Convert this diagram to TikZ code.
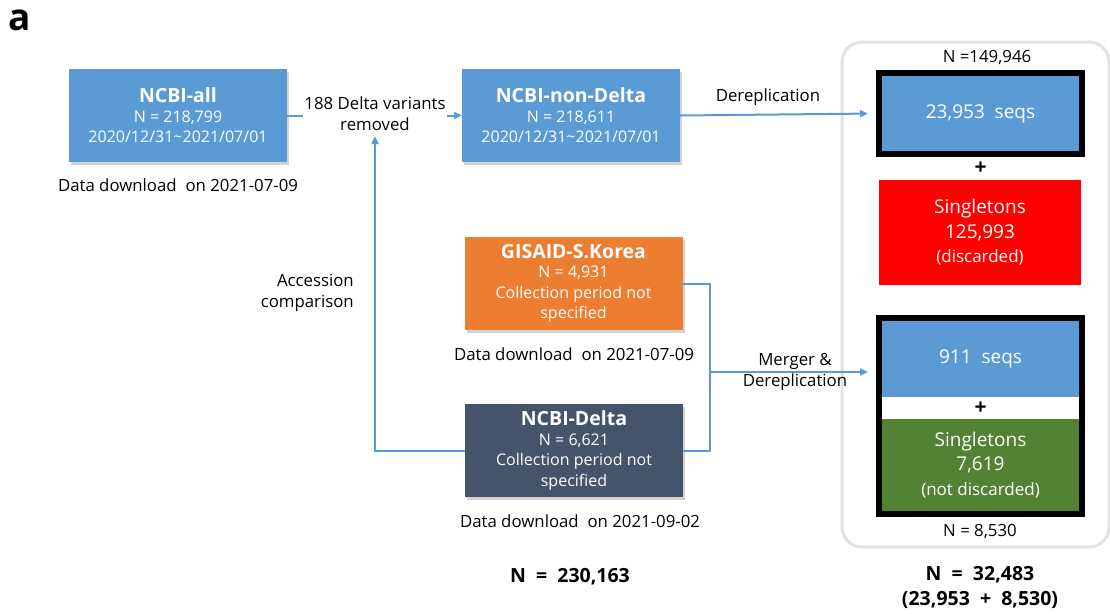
\documentclass[tikz,border=0pt]{standalone}
\usepackage{fontspec}
\setmainfont{Open Sans}
\usetikzlibrary{arrows.meta,shadows}
\definecolor{cblue}{HTML}{5B9BD5}
\definecolor{corange}{HTML}{ED7D31}
\definecolor{cslate}{HTML}{44546A}
\definecolor{cgreen}{HTML}{548235}
\definecolor{cred}{HTML}{FF0000}
\definecolor{cgray}{HTML}{E2E2E2}
\newcommand{\ttlf}{\fontsize{19.5}{22}\selectfont\bfseries}
\tikzset{
  srcbox/.style={fill=#1, text=white, minimum width=218pt, minimum height=93pt, inner sep=0pt, align=center,
    font=\fontsize{16}{20.5}\selectfont,
    drop shadow={shadow xshift=2pt, shadow yshift=-3pt, opacity=0.35}},
  conn/.style={draw=cblue, line width=2pt},
  arr/.style={conn, -{Triangle[length=8pt,width=7pt]}},
  lbl/.style={font=\fontsize{16.8}{21}\selectfont, text=black, align=center, inner sep=1pt},
  resbox/.style={fill=#1, text=white, inner sep=0pt, align=center, font=\fontsize{19}{24.5}\selectfont},
  frame/.style={draw=black, line width=6pt, inner sep=0pt},
  plus/.style={font=\fontsize{21}{22}\selectfont\bfseries, inner sep=0pt},
  big/.style={font=\fontsize{19.5}{25}\selectfont\bfseries, align=center, inner sep=0pt}
}
\begin{document}
\begin{tikzpicture}[x=1pt,y=-1pt]
\useasboundingbox[fill=white] (0,0) rectangle (1110,613);
\node[font=\fontsize{37}{37}\selectfont\bfseries, anchor=west, inner sep=0pt] (lettera) at (8,20) {a};

% gray frame
\draw[cgray, line width=3pt, rounded corners=20pt] (842,42) rectangle (1109,547);

% source boxes
\node[srcbox=cblue] (all) at (178,115.5) {{\ttlf NCBI-all}\\[-1pt]N\ =\ 218,799\\2020/12/31\textasciitilde 2021/07/01};
\node[srcbox=cblue] (nond) at (571,115.5) {{\ttlf NCBI-non-Delta}\\[-1pt]N\ =\ 218,611\\2020/12/31\textasciitilde 2021/07/01};
\node[srcbox=corange] (gis) at (573.5,283.5) {{\ttlf GISAID-S.Korea}\\[-1pt]N\ =\ 4,931\\Collection period not\\specified};
\node[srcbox=cslate] (delta) at (574,450.5) {{\ttlf NCBI-Delta}\\[-1pt]N\ =\ 6,621\\Collection period not\\specified};

\node[lbl] (dl1) at (178,185) {Data download\ \ on 2021-07-09};
\node[lbl] (dl2) at (574,354) {Data download\ \ on 2021-07-09};
\node[lbl] (dl3) at (580,521) {Data download\ \ on 2021-09-02};

% results
\node[frame, minimum width=203pt, minimum height=81pt] (f1) at (980.5,113.5) {};
\node[resbox=cblue, minimum width=197pt, minimum height=75pt] (s1) at (980.5,113.5) {23,953\ \ seqs};
\node[plus] (p1) at (980.5,168) {+};
\node[resbox=cred, minimum width=202pt, minimum height=105pt] (red) at (980,232.5) {Singletons\\125,993\\{\fontsize{17}{20}\selectfont(discarded)}};
\node[lbl] (n1) at (987,57) {N\ =149,946};

\node[frame, minimum width=203pt, minimum height=196pt] (f2) at (980.5,416) {};
\node[resbox=cblue, minimum width=197pt, minimum height=76pt] (s2) at (980.5,359) {911\ \ seqs};
\node[plus] (p2) at (980.5,408) {+};
\node[resbox=cgreen, minimum width=197pt, minimum height=92pt] (green) at (980.5,465) {Singletons\\7,619\\{\fontsize{17}{20}\selectfont(not discarded)}};
\node[lbl] (n2) at (980,531) {N\ =\ 8,530};

\node[big] (tot1) at (570,577) {N\ \ =\ \ 230,163};
\node[big] (tot2) at (980,587) {N\ \ =\ \ 32,483\\(23,953\ \ +\ \ 8,530)};

% connectors
\draw[arr] (all.east) -- (nond.west);
\node[lbl, fill=white] (rm) at (375,114) {188 Delta variants\\removed};
\node[lbl] (derep) at (768,97) {Dereplication};
\draw[arr, shorten >=8pt] (nond.east) -- (f1.west);

\coordinate (jt) at (710,284);
\coordinate (jb) at (710,450.5);
\coordinate (jm) at (710,372);
\draw[conn] (gis.east |- jt) -- (jt) -- (jb) -- (delta.east);
\draw[arr, shorten >=8pt] (jm) -- (f2.west |- jm);
\node[lbl] (merge) at (795,372) {Merger \&\\Dereplication};

\coordinate (ja) at (375,450.5);
\draw[arr] (delta.west) -- (ja) -- ([yshift=-4pt]rm.south);
\node[lbl, align=right, anchor=east] (acc) at (355,293) {Accession\\comparison};
\end{tikzpicture}
\end{document}
